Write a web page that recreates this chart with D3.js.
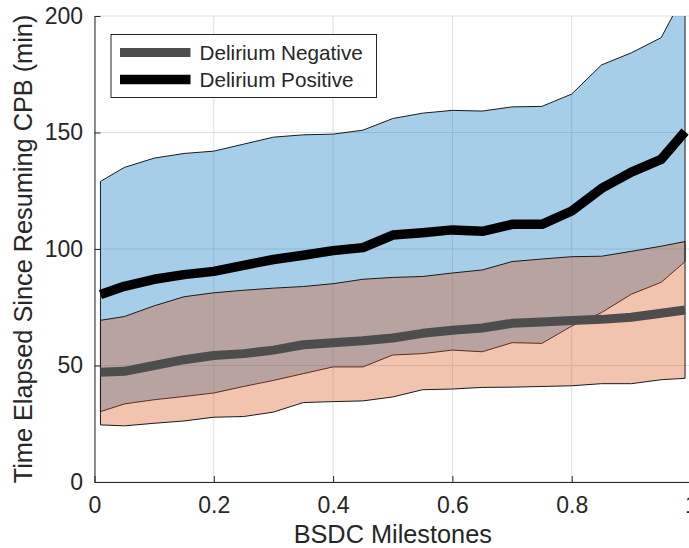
<!DOCTYPE html>
<html>
<head>
<meta charset="utf-8">
<script src="https://cdn.jsdelivr.net/npm/d3@7"></script>
<style>
  html, body { margin: 0; padding: 0; background: #fff; overflow: hidden; }
  svg { display: block; }
  text { font-family: Helvetica, "Liberation Sans", Arial, sans-serif; fill: #262626; }
</style>
</head>
<body>
<svg id="chart" width="689" height="548"></svg>
<script>
// ---- data ----
const milestones = [0.01, 0.05, 0.10, 0.15, 0.20, 0.25, 0.30, 0.35, 0.40, 0.45, 0.50,
                    0.55, 0.60, 0.65, 0.70, 0.75, 0.80, 0.85, 0.90, 0.95, 0.99];
const posUpper = [129, 135, 139, 141, 142, 145, 148, 149, 149.3, 151, 156,
                  158.3, 159.5, 159.2, 161, 161.2, 166.5, 179, 184.2, 190.7, 210];
const posMean  = [80.5, 84, 87, 89, 90.4, 93, 95.5, 97.3, 99.3, 100.6, 106,
                  107, 108.2, 107.6, 110.6, 110.6, 116.3, 126, 133, 138.5, 150.4];
const posLower = [30.2, 33.5, 35.3, 36.7, 38.2, 41, 43.6, 46.5, 49.4, 49.4, 54.5,
                  55.1, 56.6, 55.9, 59.8, 59.5, 66.9, 72.7, 80.6, 85.7, 94.6];
const negUpper = [69.4, 71, 75.6, 79.5, 81.2, 82.3, 83.2, 83.9, 85.1, 87, 87.8,
                  88.2, 89.7, 91, 94.6, 95.7, 96.7, 96.9, 99, 101.2, 103.2];
const negMean  = [47.1, 47.5, 50, 52.5, 54.3, 55.1, 56.6, 58.9, 59.8, 60.6, 61.8,
                  63.8, 65.1, 66.1, 68.1, 68.7, 69.3, 69.8, 70.7, 72.4, 73.8];
const negLower = [24.5, 24.1, 25.2, 26.2, 27.8, 28.1, 30, 34.1, 34.5, 34.8, 36.5,
                  39.6, 39.9, 40.6, 40.7, 41, 41.3, 42.2, 42.2, 43.9, 44.5];
const xTicks = [0, 0.2, 0.4, 0.6, 0.8, 1];
const xTickLabels = ["0", "0.2", "0.4", "0.6", "0.8", "1"];
const yTicks = [0, 50, 100, 150, 200];
const legendLabels = ["Delirium Negative", "Delirium Positive"];
const xLabel = "BSDC Milestones";
const yLabel = "Time Elapsed Since Resuming CPB (min)";

// ---- layout ----
const svg = d3.select("#chart");
const L = 94.5, R = 691, T = 16, B = 482;
const x = d3.scaleLinear().domain([0, 1]).range([L, R]);
const y = d3.scaleLinear().domain([0, 200]).range([B, T]);

const cBlue = "rgb(0,114,189)", cOrange = "rgb(217,83,25)";
const cNeg = "#4d4d4d", cPos = "#000000";

svg.append("defs").append("clipPath").attr("id", "plotclip")
  .append("rect").attr("x", L).attr("y", T).attr("width", R - L).attr("height", B - T);

// grid
const grid = svg.append("g");
grid.selectAll("line.gx").data(xTicks).enter().append("line")
  .attr("x1", d => x(d)).attr("x2", d => x(d)).attr("y1", T).attr("y2", B)
  .attr("stroke", "#dfdfdf").attr("stroke-width", 1);
grid.selectAll("line.gy").data(yTicks).enter().append("line")
  .attr("x1", L).attr("x2", R).attr("y1", d => y(d)).attr("y2", d => y(d))
  .attr("stroke", "#dfdfdf").attr("stroke-width", 1);

const plot = svg.append("g").attr("clip-path", "url(#plotclip)");

const idx = d3.range(milestones.length);
function band(lo, hi) {
  return d3.area().x(i => x(milestones[i])).y0(i => y(lo[i])).y1(i => y(hi[i]))(idx);
}
// positive band (blue)
plot.append("path").attr("d", band(posLower, posUpper))
  .attr("fill", cBlue).attr("fill-opacity", 0.35)
  .attr("stroke", "#1a1a1a").attr("stroke-width", 1).attr("stroke-linejoin", "round");
// negative band (orange)
plot.append("path").attr("d", band(negLower, negUpper))
  .attr("fill", cOrange).attr("fill-opacity", 0.35)
  .attr("stroke", "#1a1a1a").attr("stroke-width", 1).attr("stroke-linejoin", "round");

const line = vals => d3.line().x(i => x(milestones[i])).y(i => y(vals[i]))(idx);
plot.append("path").attr("d", line(negMean)).attr("fill", "none")
  .attr("stroke", cNeg).attr("stroke-width", 9).attr("stroke-linejoin", "round");
plot.append("path").attr("d", line(posMean)).attr("fill", "none")
  .attr("stroke", cPos).attr("stroke-width", 9.5).attr("stroke-linejoin", "round");

// axes
const fs = 23;
const gx = svg.append("g").attr("transform", `translate(0,${B})`)
  .call(d3.axisBottom(x).tickValues(xTicks).tickFormat((d, i) => xTickLabels[i])
        .tickSizeInner(-6).tickSizeOuter(0).tickPadding(15));
const gy = svg.append("g").attr("transform", `translate(${L},0)`)
  .call(d3.axisLeft(y).tickValues(yTicks).tickFormat(d3.format("d"))
        .tickSizeInner(-6).tickSizeOuter(0).tickPadding(11.5));
[gx, gy].forEach(g => {
  g.select(".domain").attr("stroke", "#262626").attr("stroke-width", 1);
  g.selectAll(".tick line").attr("stroke", "#262626").attr("stroke-width", 1);
  g.selectAll(".tick text").attr("font-size", fs).attr("fill", "#262626")
    .style("font-family", 'Helvetica, "Liberation Sans", Arial, sans-serif');
});

// labels
svg.append("text").attr("x", (L + R) / 2).attr("y", 543)
  .attr("text-anchor", "middle").attr("font-size", 25.3).text(xLabel);
svg.append("text").attr("transform", `translate(31.5,${(T + B) / 2}) rotate(-90)`)
  .attr("text-anchor", "middle").attr("font-size", 25.3).text(yLabel);

// legend
const lg = svg.append("g");
lg.append("rect").attr("x", 111).attr("y", 34.5).attr("width", 265.5).attr("height", 63)
  .attr("fill", "#fff").attr("stroke", "#262626").attr("stroke-width", 1);
const legendColors = [cNeg, cPos];
const legendWidths = [9, 9.5];
legendLabels.forEach((lab, i) => {
  const ly = 52.5 + i * 27;
  lg.append("line").attr("x1", 120).attr("x2", 190.5).attr("y1", ly).attr("y2", ly)
    .attr("stroke", legendColors[i]).attr("stroke-width", legendWidths[i]);
  lg.append("text").attr("x", 199.5).attr("y", ly).attr("dy", "0.36em")
    .attr("font-size", 20.7).text(lab);
});
</script>
</body>
</html>
